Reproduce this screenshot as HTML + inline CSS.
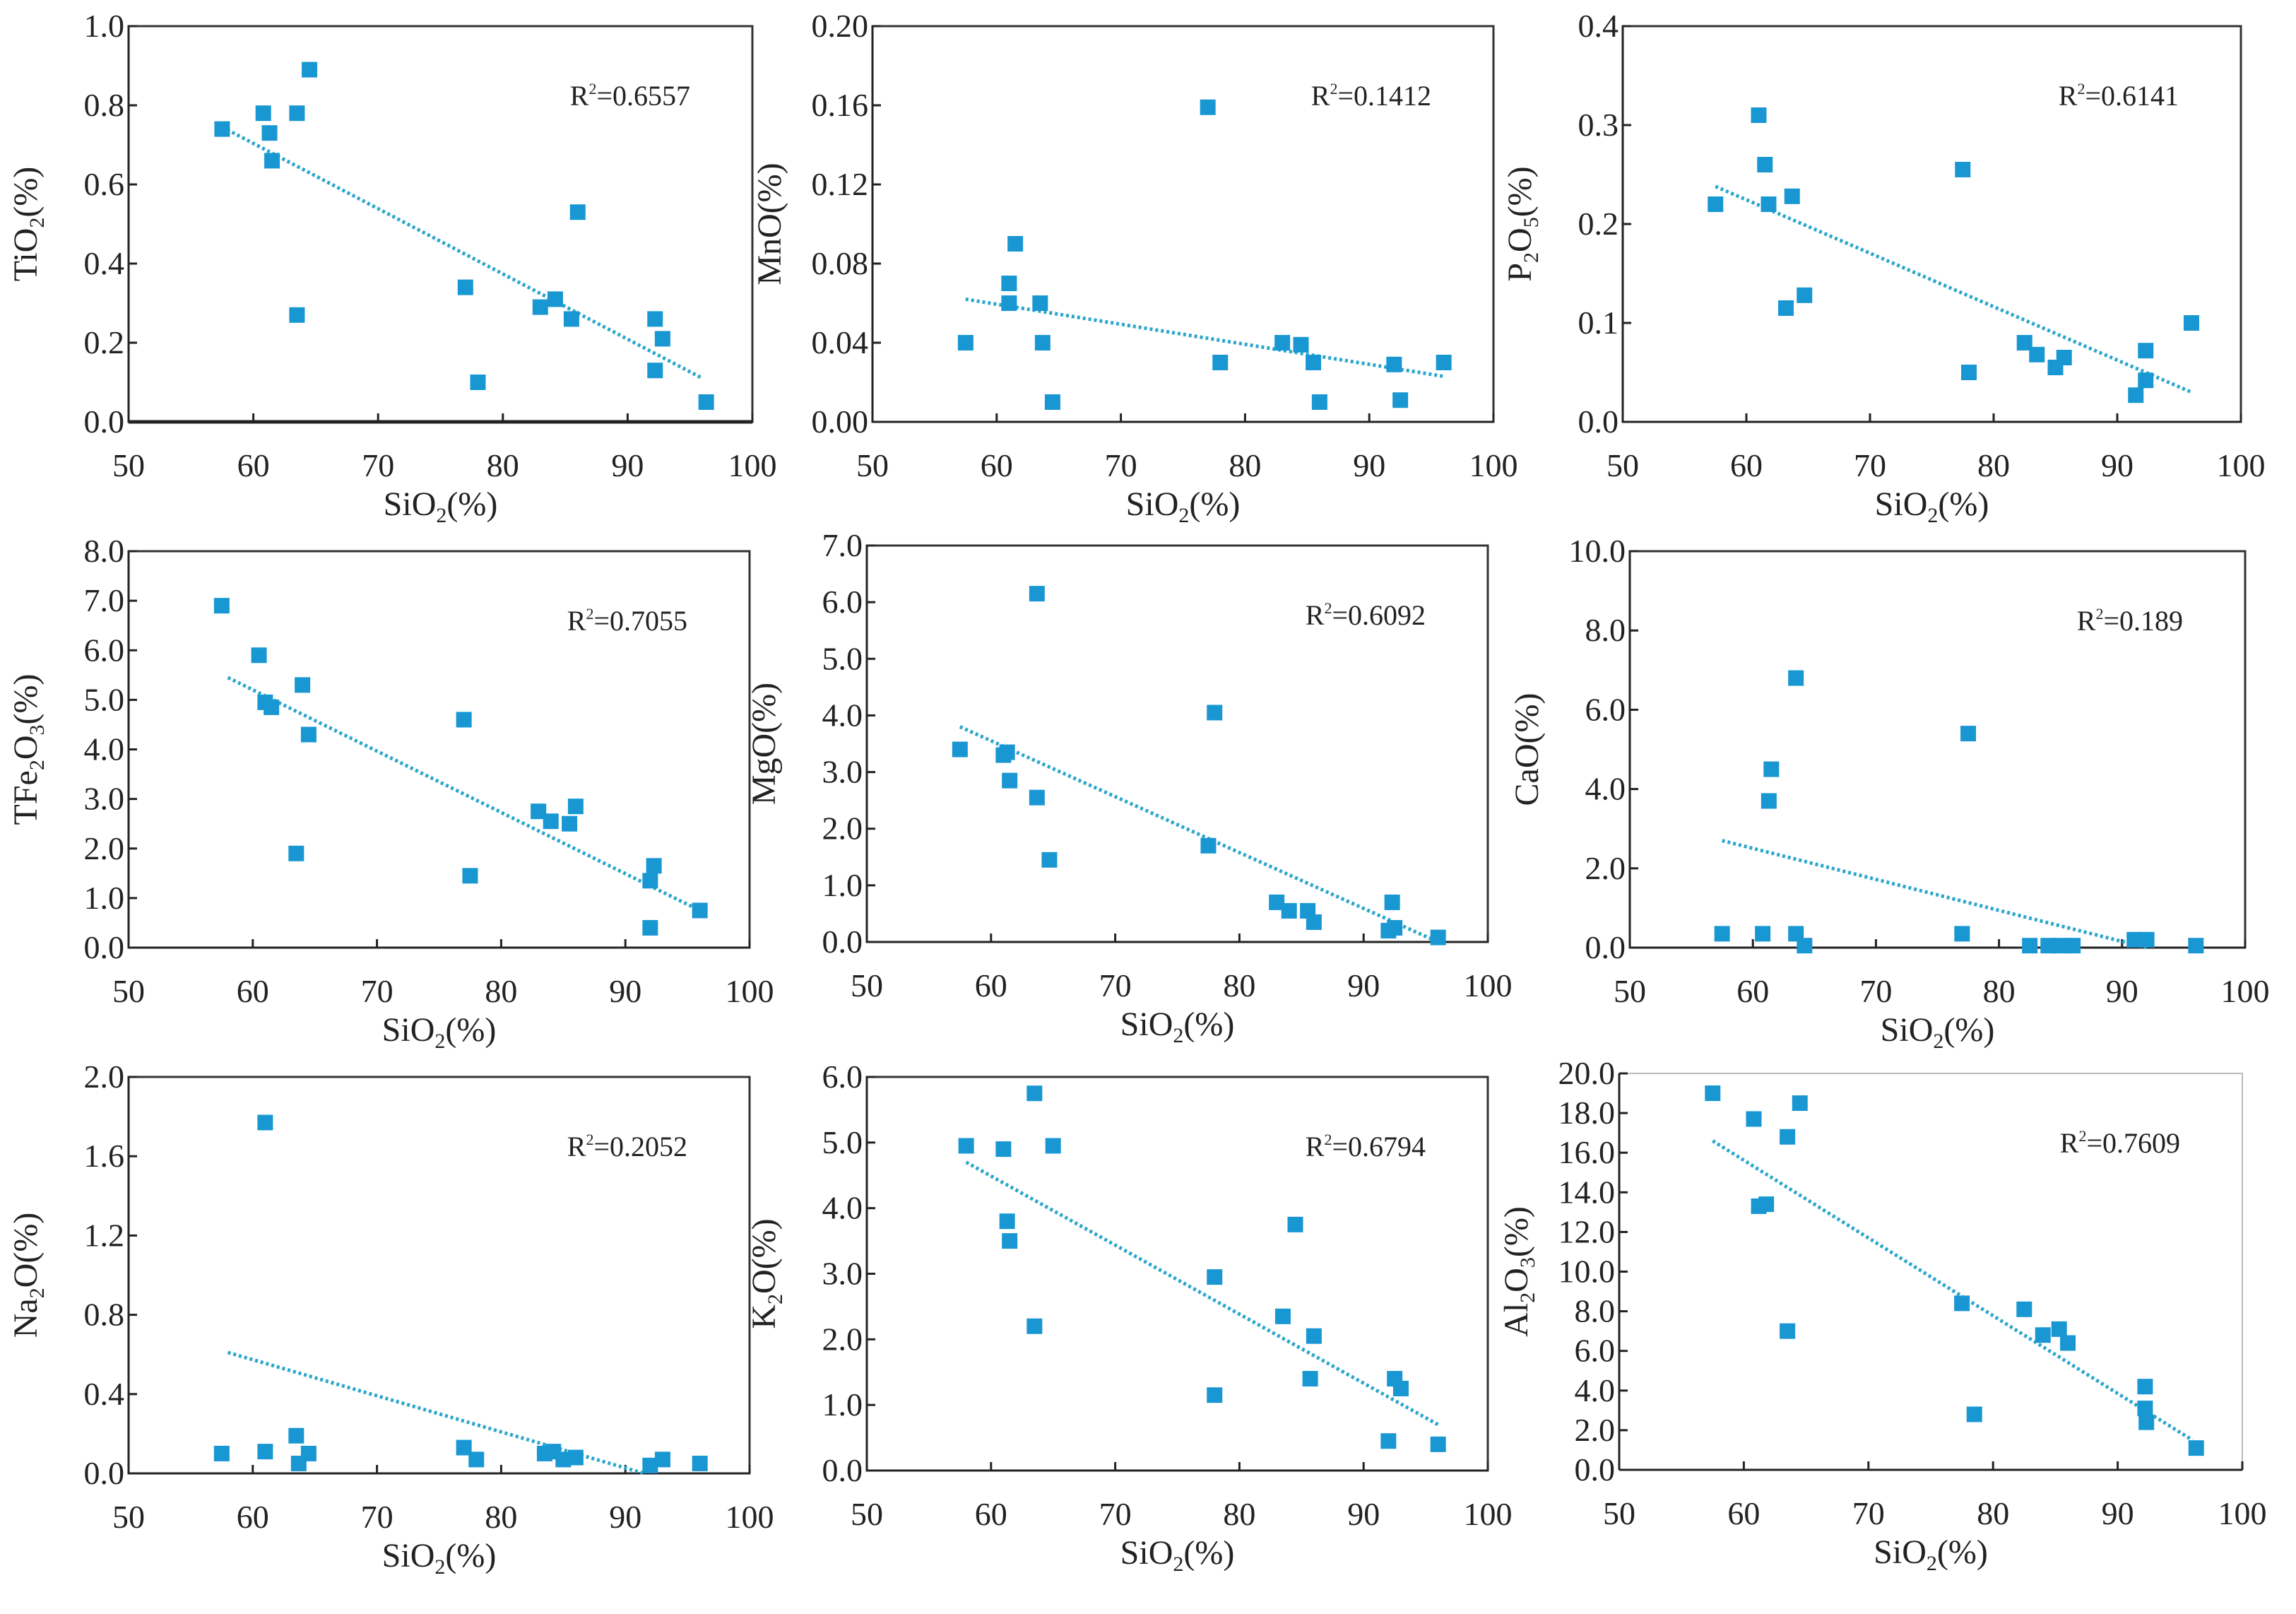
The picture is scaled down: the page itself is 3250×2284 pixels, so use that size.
<!DOCTYPE html>
<html><head><meta charset="utf-8"><style>
html,body{margin:0;padding:0;background:#fff}
svg text{font-family:"Liberation Serif",serif;fill:#222}
</style></head><body>
<svg id="fig" width="3250" height="2279" viewBox="0 0 3250 2279" xmlns="http://www.w3.org/2000/svg"></svg>
<script>
// ---- data ----
const tiX=[57.5,60.8,61.3,61.5,63.5,64.5,63.5,77,78,83,84.2,85.5,86,92.2,92.8,92.2,96.3];
const tiY=[0.74,0.78,0.73,0.66,0.78,0.89,0.27,0.34,0.10,0.29,0.31,0.26,0.53,0.26,0.21,0.13,0.05];
const mnX=[57.5,61,61,61.5,63.5,63.7,64.5,77,78,83,84.5,85.5,86,92,92.5,96];
const mnY=[0.040,0.070,0.060,0.090,0.060,0.040,0.010,0.159,0.030,0.040,0.039,0.030,0.010,0.029,0.011,0.030];
const pX=[57.5,61,61.5,61.8,63.2,63.7,64.7,77.5,78,82.5,83.5,85,85.7,91.5,92.3,92.3,96];
const pY=[0.22,0.31,0.26,0.22,0.115,0.228,0.128,0.255,0.05,0.08,0.068,0.055,0.065,0.027,0.042,0.072,0.10];
const feX=[57.5,60.5,61,61.5,63.5,64,64.5,77,77.5,83,84,85.5,86,92,92.3,92,96];
const feY=[6.9,5.9,4.95,4.85,1.9,5.3,4.3,4.6,1.45,2.75,2.55,2.5,2.85,1.35,1.65,0.4,0.75];
const mgX=[57.5,61,61.3,61.5,63.7,63.7,64.7,77.5,78,83,84,85.5,86,92,92.3,92.5,96];
const mgY=[3.4,3.3,3.35,2.85,6.15,2.55,1.45,1.7,4.05,0.7,0.55,0.55,0.35,0.2,0.7,0.25,0.08];
const caX=[57.5,60.8,61.3,61.5,63.5,63.5,64.2,77,77.5,82.5,84,85,86,91,92,96];
const caY=[0.35,0.35,3.7,4.5,6.8,0.35,0.05,0.35,5.4,0.05,0.05,0.05,0.05,0.2,0.2,0.05];
const naX=[57.5,61,61,63.5,63.7,64.5,77,78,83.5,84.2,85,86,92,93,96];
const naY=[0.10,0.11,1.77,0.19,0.05,0.10,0.13,0.07,0.10,0.11,0.07,0.08,0.04,0.07,0.05];
const kX=[58,61,61.3,61.5,63.5,63.5,65,78,78,83.5,84.5,85.7,86,92,92.5,93,96];
const kY=[4.95,4.9,3.8,3.5,5.75,2.2,4.95,2.95,1.15,2.35,3.75,1.4,2.05,0.45,1.4,1.25,0.4];
const alX=[57.5,60.8,61.2,61.8,63.5,63.5,64.5,77.5,78.5,82.5,84,85.3,86,92.2,92.2,92.3,96.3];
const alY=[19.0,17.7,13.3,13.4,16.8,7.0,18.5,8.4,2.8,8.1,6.8,7.1,6.4,4.2,3.1,2.4,1.1];
const xTicks=[50,60,70,80,90,100];
const trendTi=[[57.5,0.745],[96,0.11]];
const trendMn=[[57.5,0.062],[96,0.023]];
const trendP=[[57.5,0.238],[96,0.03]];
const trendFe=[[58,5.45],[96,0.75]];
const trendMg=[[57.5,3.8],[96,0]];
const trendCa=[[57.5,2.7],[92,0]];
const trendNa=[[58,0.61],[91.5,0]];
const trendK=[[58,4.7],[96,0.7]];
const trendAl=[[57.5,16.6],[96,1.5]];
const r2Labels=["0.6557","0.1412","0.6141","0.7055","0.6092","0.189","0.2052","0.6794","0.7609"];

const NS="http://www.w3.org/2000/svg";
const svg=document.getElementById('fig');
function mk(tag,attrs,parent){const e=document.createElementNS(NS,tag);for(const k in attrs)e.setAttribute(k,attrs[k]);(parent||svg).appendChild(e);return e;}

// title parts: strings starting with '_' are subscripts
const panels=[
 {name:'tio2',box:[182,37,1065,597],yMax:1.0,yStep:0.2,dec:1,xs:tiX,ys:tiY,tr:trendTi,t:['TiO','_2','(%)']},
 {name:'mno',box:[1235,37,2114,597],yMax:0.20,yStep:0.04,dec:2,xs:mnX,ys:mnY,tr:trendMn,t:['MnO(%)']},
 {name:'p2o5',box:[2297,37,3172,597],yMax:0.4,yStep:0.1,dec:1,xs:pX,ys:pY,tr:trendP,t:['P','_2','O','_5','(%)']},
 {name:'tfe2o3',box:[182,780,1061,1341],yMax:8,yStep:1,dec:1,xs:feX,ys:feY,tr:trendFe,t:['TFe','_2','O','_3','(%)']},
 {name:'mgo',box:[1227,772,2106,1333],yMax:7,yStep:1,dec:1,xs:mgX,ys:mgY,tr:trendMg,t:['MgO(%)']},
 {name:'cao',box:[2307,780,3178,1341],yMax:10,yStep:2,dec:1,xs:caX,ys:caY,tr:trendCa,t:['CaO(%)']},
 {name:'na2o',box:[182,1524,1061,2085],yMax:2.0,yStep:0.4,dec:1,xs:naX,ys:naY,tr:trendNa,t:['Na','_2','O(%)']},
 {name:'k2o',box:[1227,1524,2106,2081],yMax:6,yStep:1,dec:1,xs:kX,ys:kY,tr:trendK,t:['K','_2','O(%)']},
 {name:'al2o3',box:[2292,1519,3174,2080],yMax:20,yStep:2,dec:1,xs:alX,ys:alY,tr:trendAl,t:['Al','_2','O','_3','(%)']}
];

function addRich(parent,parts,attrs){
  const t=mk('text',attrs,parent);
  let prevSub=false;
  parts.forEach(p=>{
    const sub=p.startsWith('_');
    let dy=0;
    if(sub&&!prevSub)dy=10;
    if(!sub&&prevSub)dy=-10;
    const ts=mk('tspan',sub?{'font-size':'30','dy':dy}:{'dy':dy},t);
    ts.textContent=sub?p.slice(1):p;
    prevSub=sub;
  });
  return t;
}

panels.forEach((p,idx)=>{
  const [L,T,R,B]=p.box;
  const g=mk('g',{});
  
  
  const sx=v=>L+(v-50)/50*(R-L);
  const sy=v=>B-v/p.yMax*(B-T);
  const frame=mk('rect',{x:L,y:T,width:R-L,height:B-T,fill:'none',stroke:idx===8?'#bbb':'#333','stroke-width':idx===8?2:3},g);
  
  
  const ax=mk('line',{x1:L,y1:B,x2:R,y2:B,stroke:'#222','stroke-width':idx===0?5:3},g);
  
  
  const ay=mk('line',{x1:L,y1:T,x2:L,y2:B,stroke:'#222','stroke-width':3},g);
  
  
  xTicks.forEach(v=>{
    mk('line',{x1:sx(v),y1:B,x2:sx(v),y2:B-12,stroke:'#222','stroke-width':3},g);
    const tl=mk('text',{x:sx(v),y:B+77,'font-size':'46','text-anchor':'middle'},g);
    
    
    tl.textContent=v;
  });
  const n=Math.round(p.yMax/p.yStep);
  for(let i=0;i<=n;i++){
    const v=i*p.yStep;
    mk('line',{x1:L,y1:sy(v),x2:L+12,y2:sy(v),stroke:'#222','stroke-width':3},g);
    const tl=mk('text',{x:L-6,y:sy(v)+15,'font-size':'46','text-anchor':'end'},g);
    
    
    tl.textContent=v.toFixed(p.dec);
  }
  const xt=addRich(g,['SiO','_2','(%)'],{x:(L+R)/2,y:B+132,'font-size':'48','text-anchor':'middle'});
  
  
  const cx=L-130, cy=(T+B)/2;
  const yt=addRich(g,p.t,{x:cx,y:cy,'font-size':'48','text-anchor':'middle',transform:`rotate(-90 ${cx} ${cy})`});
  
  
  const tr=mk('line',{x1:sx(p.tr[0][0]),y1:sy(p.tr[0][1]),x2:sx(p.tr[1][0]),y2:sy(p.tr[1][1]),stroke:'#2aa6cc','stroke-width':5,'stroke-dasharray':'4 4'},g);
  
  
  p.xs.forEach((x,i)=>{
    const r=mk('rect',{x:sx(x)-11,y:sy(p.ys[i])-11,width:22,height:22,fill:'#1997d2'},g);
    
    
  });
  const rl=mk('text',{x:R-88,y:T+112,'font-size':'40','text-anchor':'end'},g);
  
  
  const a=mk('tspan',{},rl);a.textContent='R';
  const b=mk('tspan',{'font-size':'22',dy:'-16'},rl);b.textContent='2';
  const c=mk('tspan',{dy:'16'},rl);c.textContent='='+r2Labels[idx];
});
</script>
</body></html>
